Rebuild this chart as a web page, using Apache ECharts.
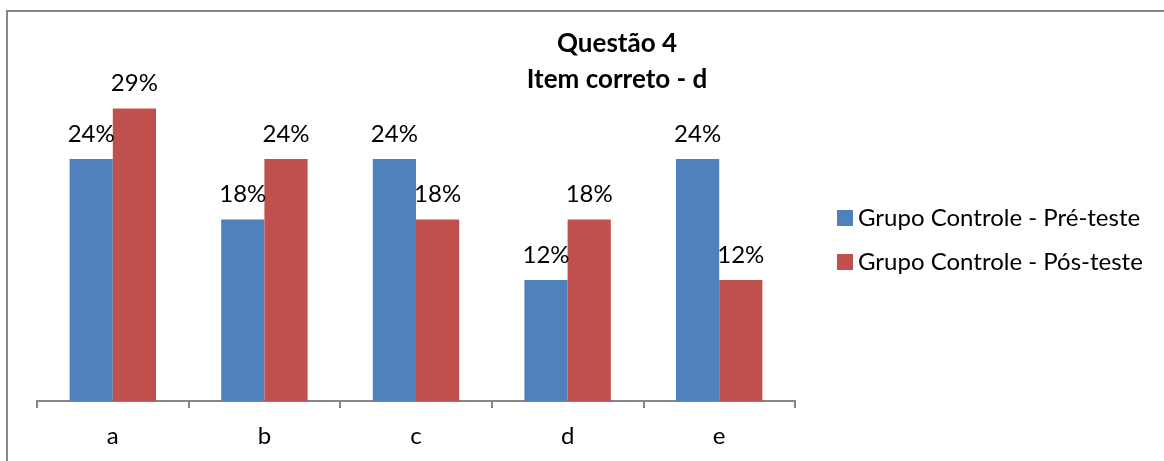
<!DOCTYPE html>
<html>
<head>
<meta charset="utf-8">
<script src="https://cdn.jsdelivr.net/npm/echarts@6/dist/echarts.min.js"></script>
<style>
  html, body { margin: 0; padding: 0; background: #fff; }
  #chart { width: 1164px; height: 461px; }
</style>
</head>
<body>
<div id="chart"></div>
<script>
// Answer choices and the share of the control group picking each one (%)
const categories = ['a', 'b', 'c', 'd', 'e'];
const preTeste = [24, 18, 24, 12, 24];
const posTeste = [29, 24, 18, 18, 12];
const seriesNames = ['Grupo Controle - Pré-teste', 'Grupo Controle - Pós-teste'];
const titleLines = ['Questão 4', 'Item correto - d'];

const FONT = 'Lato';
const chart = echarts.init(document.getElementById('chart'));

const labelStyle = {
  show: true,
  position: 'top',
  distance: 13,
  fontFamily: FONT,
  fontSize: 24,
  color: '#000',
  formatter: p => p.value + '%'
};

chart.setOption({
  animation: false,
  backgroundColor: '#fff',
  title: {
    text: titleLines.join('\n'),
    left: 612,
    top: 21,
    textAlign: 'center',
    textStyle: {
      fontFamily: FONT,
      fontWeight: 'bold',
      fontSize: 26,
      lineHeight: 36,
      color: '#000'
    }
  },
  legend: {
    orient: 'vertical',
    left: 832,
    top: 201,
    icon: 'rect',
    itemWidth: 16,
    itemHeight: 16,
    itemGap: 20,
    textStyle: { fontFamily: FONT, fontSize: 24, color: '#000', padding: [0, 0, 0, 0] },
    data: seriesNames
  },
  grid: { left: 37, right: 369, top: 98.5, bottom: 60 },
  xAxis: {
    type: 'category',
    data: categories,
    axisLine: { lineStyle: { color: '#868686', width: 2 } },
    axisTick: { show: true, length: 7, lineStyle: { color: '#868686', width: 2 } },
    axisLabel: { fontFamily: FONT, fontSize: 24, color: '#000', margin: 23 }
  },
  yAxis: {
    type: 'value',
    min: 0,
    max: 30,
    show: false,
    splitLine: { show: false }
  },
  series: [
    {
      name: seriesNames[0],
      type: 'bar',
      data: preTeste,
      barGap: '0%',
      barCategoryGap: '43%',
      itemStyle: { color: '#4F81BD' },
      label: labelStyle
    },
    {
      name: seriesNames[1],
      type: 'bar',
      data: posTeste,
      itemStyle: { color: '#C0504D' },
      label: labelStyle
    }
  ],
  graphic: [
    {
      type: 'rect',
      shape: { x: 7, y: 11, width: 1200, height: 500 },
      style: { fill: 'none', stroke: '#868686', lineWidth: 2 },
      silent: true
    }
  ]
});
</script>
</body>
</html>
